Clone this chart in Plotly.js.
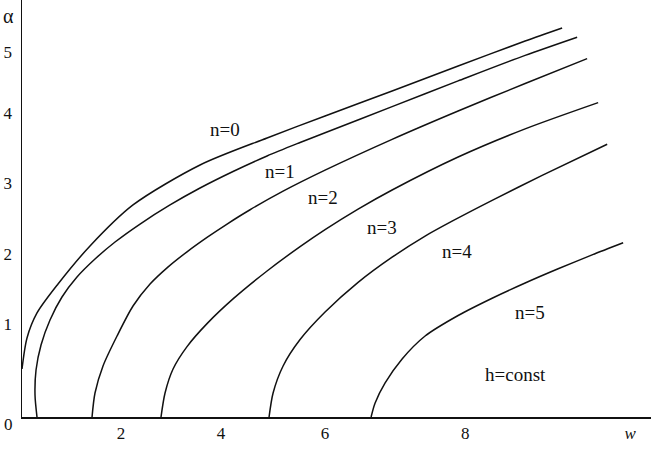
<!DOCTYPE html>
<html>
<head>
<meta charset="utf-8">
<script src="https://cdn.plot.ly/plotly-3.0.1.min.js"></script>
<style>html,body{margin:0;padding:0;background:#fff;}#chart{width:651px;height:452px;}</style>
</head>
<body>
<div id="chart"></div>
<script>
// Curves: w (x) and alpha (y) values
const n0_w = [0, 0.098, 0.294, 0.706, 1.333, 2.176, 3.490, 4.804, 5.941, 7.255, 8.549, 9.863, 10.588];
const n0_a = [0.686, 1.129, 1.486, 1.900, 2.443, 3.029, 3.600, 3.986, 4.300, 4.657, 5.014, 5.371, 5.557];

const n1_w = [0.294, 0.255, 0.275, 0.373, 0.549, 0.784, 1.078, 1.431, 1.824, 2.314, 2.902, 3.490, 4.137, 4.804, 5.451, 5.941, 7.255, 8.549, 9.863, 10.882];
const n1_a = [0, 0.314, 0.671, 1.029, 1.386, 1.714, 2.0, 2.257, 2.5, 2.757, 3.029, 3.271, 3.507, 3.729, 3.921, 4.061, 4.434, 4.801, 5.166, 5.426];

const n2_w = [1.373, 1.431, 1.588, 1.863, 2.176, 2.510, 2.843, 3.235, 3.627, 4.020, 4.471, 5.118, 5.941, 7.255, 8.549, 9.863, 11.078];
const n2_a = [0, 0.343, 0.729, 1.157, 1.586, 1.9, 2.131, 2.36, 2.566, 2.757, 2.961, 3.226, 3.526, 3.966, 4.371, 4.764, 5.119];

const n3_w = [2.725, 2.804, 2.961, 3.235, 3.627, 4.137, 4.804, 5.451, 5.941, 6.588, 7.255, 8.549, 9.863, 11.294];
const n3_a = [0, 0.343, 0.686, 1.006, 1.334, 1.687, 2.086, 2.434, 2.677, 2.970, 3.243, 3.714, 4.116, 4.491];

const n4_w = [4.843, 4.922, 5.118, 5.451, 5.941, 6.588, 7.255, 7.902, 8.431, 9.216, 10.196, 11.471];
const n4_a = [0, 0.343, 0.729, 1.106, 1.499, 1.923, 2.283, 2.584, 2.797, 3.094, 3.451, 3.897];

const n5_w = [6.843, 6.922, 7.118, 7.451, 7.902, 8.549, 9.216, 9.863, 10.510, 11.176, 11.784];
const n5_a = [0, 0.2, 0.486, 0.829, 1.157, 1.45, 1.697, 1.914, 2.117, 2.316, 2.489];

// Curve labels
const labelText = ['n=0', 'n=1', 'n=2', 'n=3', 'n=4', 'n=5', 'h=const'];
const labelW = [3.98, 5.06, 5.90, 7.06, 8.53, 9.96, 9.67];
const labelA = [4.10, 3.51, 3.13, 2.71, 2.36, 1.50, 0.614];

// Tick labels
const xTickText = ['2', '4', '6', '8', '<i>w</i>'];
const xTickVals = [1.94, 3.90, 5.94, 8.69, 11.92];
const yTickText = ['1', '2', '3', '4', '5'];
const yTickVals = [1.329, 2.329, 3.343, 4.343, 5.214];
const originLabel = '0';
const yAxisLabel = 'α';

const serif = 'Liberation Serif';
const ink = '#111';
const lineStyle = {color: ink, width: 1.5, shape: 'spline', smoothing: 0.8};

const curves = [[n0_w, n0_a], [n1_w, n1_a], [n2_w, n2_a], [n3_w, n3_a], [n4_w, n4_a], [n5_w, n5_a]];
const traces = curves.map(c => ({
  x: c[0], y: c[1], type: 'scatter', mode: 'lines', line: lineStyle,
  hoverinfo: 'skip', showlegend: false
}));

const annotations = labelText.map((t, i) => ({
  x: labelW[i], y: labelA[i], xref: 'x', yref: 'y', text: t, showarrow: false,
  xanchor: 'center', yanchor: 'middle', font: {family: serif, size: 19, color: ink}
}));
annotations.push({
  x: -0.0207, y: -0.0168, xref: 'paper', yref: 'paper', text: originLabel, showarrow: false,
  xanchor: 'center', yanchor: 'middle', font: {family: serif, size: 17, color: ink}
});
annotations.push({
  x: -0.0207, y: 0.962, xref: 'paper', yref: 'paper', text: yAxisLabel, showarrow: false,
  xanchor: 'center', yanchor: 'middle', font: {family: serif, size: 20, color: ink}
});

const layout = {
  width: 651, height: 452,
  margin: {l: 22, r: 0, t: 0, b: 35},
  paper_bgcolor: '#fff', plot_bgcolor: '#fff',
  showlegend: false,
  font: {family: serif, color: ink},
  xaxis: {
    range: [0, 12.33], showgrid: false, zeroline: false,
    showline: true, linecolor: ink, linewidth: 1.5,
    ticks: '', tickvals: xTickVals, ticktext: xTickText,
    tickfont: {family: serif, size: 17, color: ink}, ticklabelstandoff: 0
  },
  yaxis: {
    range: [0, 5.957], showgrid: false, zeroline: false,
    showline: true, linecolor: ink, linewidth: 1.5,
    ticks: '', tickvals: yTickVals, ticktext: yTickText,
    tickfont: {family: serif, size: 17, color: ink}, ticklabelstandoff: 5
  },
  annotations: annotations
};

Plotly.newPlot('chart', traces, layout, {staticPlot: true, displayModeBar: false});
</script>
</body>
</html>
